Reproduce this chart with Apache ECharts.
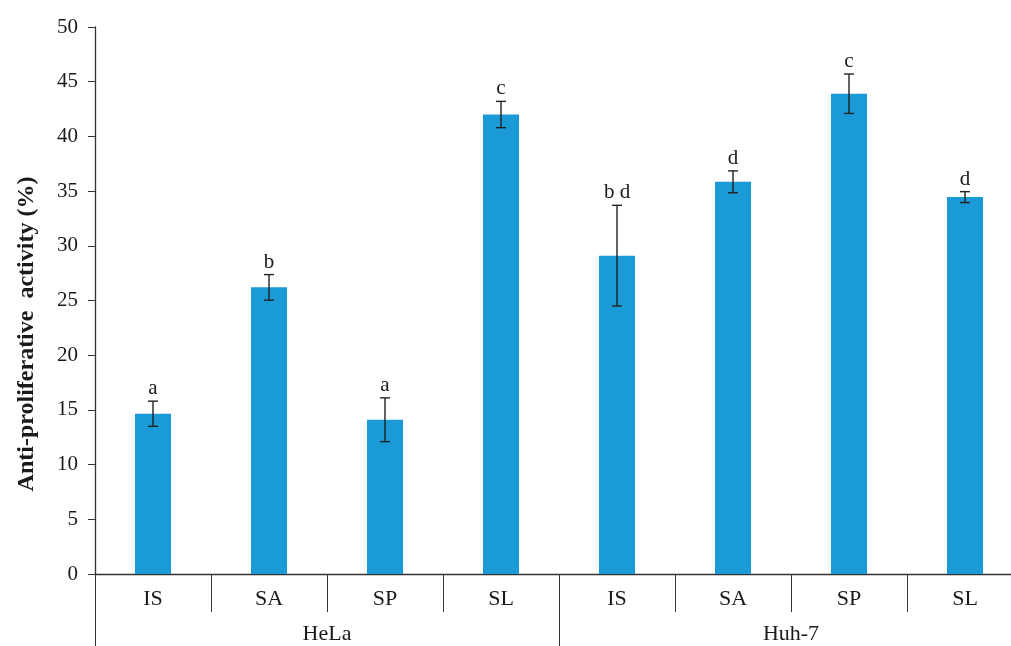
<!DOCTYPE html>
<html>
<head>
<meta charset="utf-8">
<script src="https://cdn.jsdelivr.net/npm/echarts@6/dist/echarts.min.js"></script>
<style>
  html, body { margin: 0; padding: 0; background: #fff; }
  #chart { width: 1011px; height: 646px; }
</style>
</head>
<body>
<div id="chart"></div>
<script>
// Treatments (inner x level) and cell lines (outer x level)
const treatments = ['IS', 'SA', 'SP', 'SL', 'IS', 'SA', 'SP', 'SL'];
const cellLines = ['HeLa', 'Huh-7'];
// Mean anti-proliferative activity (%) and error (±)
const activity = [14.65, 26.2, 14.1, 42.0, 29.1, 35.85, 43.9, 34.45];
const errors = [1.15, 1.17, 2.0, 1.2, 4.6, 1.0, 1.8, 0.5];
// Significance letters above each bar
const letters = ['a', 'b', 'a', 'c', 'b d', 'd', 'c', 'd'];
// Value axis range
const yMin = 0, yMax = 50, yStep = 5;

const SERIF = '"Liberation Serif", "Times New Roman", serif';
const INK = '#1a1a1a';

const errData = activity.map((v, i) => [i, v + errors[i], v - errors[i]]);

const chart = echarts.init(document.getElementById('chart'));
chart.setOption({
  animation: false,
  backgroundColor: '#fff',
  grid: { left: 95, top: 27, width: 928, height: 547, containLabel: false, outerBoundsMode: 'none' },
  xAxis: [
    {
      type: 'category',
      data: treatments,
      position: 'bottom',
      boundaryGap: true,
      axisLine: { show: true, lineStyle: { color: '#333', width: 1.3 } },
      axisTick: { show: true, inside: false, length: 38, interval: 0, lineStyle: { color: '#333', width: 1 } },
      axisLabel: { interval: 0, margin: 14, color: INK, fontFamily: SERIF, fontSize: 22 },
      splitLine: { show: false }
    },
    {
      type: 'category',
      data: cellLines,
      position: 'bottom',
      offset: 0,
      boundaryGap: true,
      axisLine: { show: false },
      axisTick: { show: true, length: 74, interval: 0, lineStyle: { color: '#333', width: 1 } },
      axisLabel: { interval: 0, margin: 49, color: INK, fontFamily: SERIF, fontSize: 22 },
      splitLine: { show: false }
    }
  ],
  yAxis: {
    type: 'value',
    min: yMin,
    max: yMax,
    interval: yStep,
    axisLine: { show: true, lineStyle: { color: '#333', width: 1.3 } },
    axisTick: { show: true, inside: false, length: 7, lineStyle: { color: '#333', width: 1 } },
    axisLabel: { margin: 17, color: INK, fontFamily: SERIF, fontSize: 21 },
    splitLine: { show: false }
  },
  graphic: [{
    type: 'text',
    x: 27,
    y: 334,
    rotation: Math.PI / 2,
    style: {
      text: 'Anti-proliferative  activity (%)',
      align: 'center',
      verticalAlign: 'middle',
      font: 'bold 24px ' + SERIF,
      fill: INK
    }
  }],
  series: [
    {
      type: 'bar',
      xAxisIndex: 0,
      data: activity,
      barWidth: 36,
      itemStyle: { color: '#1a9ad6' }
    },
    {
      type: 'custom',
      xAxisIndex: 0,
      data: errData,
      encode: { x: 0, y: [1, 2] },
      z: 5,
      renderItem: function (params, api) {
        const x = api.value(0);
        const hi = api.coord([x, api.value(1)]);
        const lo = api.coord([x, api.value(2)]);
        const cap = 5;
        const ls = { stroke: '#222', lineWidth: 1.4 };
        return {
          type: 'group',
          children: [
            { type: 'line', shape: { x1: hi[0], y1: hi[1], x2: lo[0], y2: lo[1] }, style: ls },
            { type: 'line', shape: { x1: hi[0] - cap, y1: hi[1], x2: hi[0] + cap, y2: hi[1] }, style: ls },
            { type: 'line', shape: { x1: lo[0] - cap, y1: lo[1], x2: lo[0] + cap, y2: lo[1] }, style: ls },
            {
              type: 'text',
              style: {
                text: letters[params.dataIndex],
                x: hi[0],
                y: hi[1] - 2,
                align: 'center',
                verticalAlign: 'bottom',
                font: '21px ' + SERIF,
                fill: INK
              }
            }
          ]
        };
      }
    }
  ]
});
</script>
</body>
</html>
